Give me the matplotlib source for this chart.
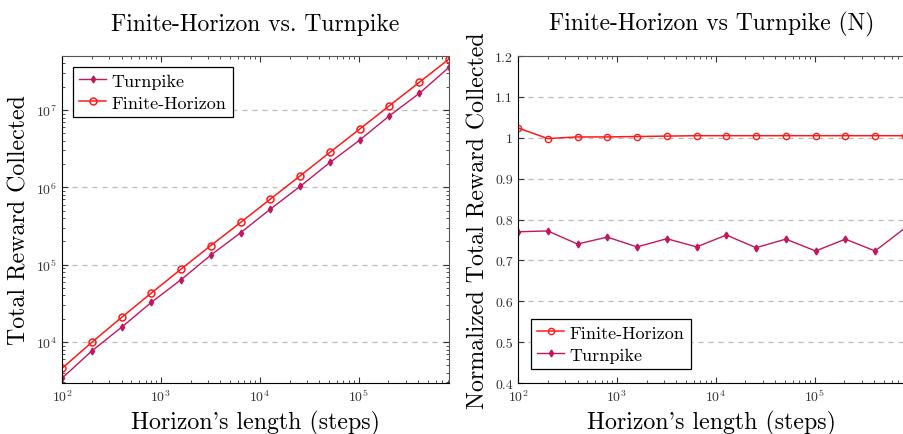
import numpy as np
import matplotlib
matplotlib.use("Agg")
import matplotlib.pyplot as plt
from matplotlib.ticker import FuncFormatter, LogLocator

plt.rcParams['font.family'] = ['cmr10', 'DejaVu Serif']
plt.rcParams['mathtext.fontset'] = 'cm'
plt.rcParams['axes.formatter.use_mathtext'] = True
plt.rcParams['axes.unicode_minus'] = False

# horizon lengths (steps)
horizon = [100, 200, 400, 800, 1600, 3200, 6400, 12800, 25600, 51200,
           102400, 204800, 409600, 819200]

# total reward collected
finite_total = [4570, 9910, 20800, 43000, 87700, 177000, 352000, 706000,
                1.41e6, 2.84e6, 5.68e6, 1.14e7, 2.28e7, 4.57e7]
turnpike_total = [3400, 7660, 15500, 32600, 64000, 133000, 259000, 524000,
                  1.03e6, 2.10e6, 4.09e6, 8.44e6, 1.64e7, 3.57e7]

# normalized total reward
finite_norm = [1.024, 0.998, 1.002, 1.002, 1.003, 1.004, 1.005, 1.005,
               1.005, 1.005, 1.005, 1.005, 1.005, 1.005]
turnpike_norm = [0.770, 0.772, 0.740, 0.757, 0.733, 0.753, 0.733, 0.762,
                 0.731, 0.752, 0.723, 0.752, 0.723, 0.779]

red = '#ff1a1a'
crim = '#c4165e'

fig = plt.figure(figsize=(9.04, 4.35), dpi=100)
ax1 = fig.add_axes([0.0686, 0.1172, 0.4281, 0.7518])
ax2 = fig.add_axes([0.573, 0.1172, 0.428, 0.7518])


def style(ax):
    ax.tick_params(which='both', direction='in', top=True, right=True,
                   labelsize=10, colors='#333333', labelcolor='#333333')
    ax.tick_params(which='major', length=4, width=0.8)
    ax.tick_params(which='minor', length=2, width=0.6)
    ax.spines['left'].set_color('black')
    ax.spines['bottom'].set_color('black')
    ax.spines['top'].set_color('#555555')
    ax.spines['right'].set_color('#555555')
    ax.yaxis.grid(True, which='major', linestyle=(0, (4, 4)), color='#bbbbbb', linewidth=0.9)
    ax.set_axisbelow(True)
    ax.set_xlabel("Horizon's length (steps)", fontsize=17.2)


# left: raw totals
ax1.loglog(horizon, turnpike_total, '-', color=crim, marker='d', markersize=3.5,
           linewidth=1.0, label='Turnpike')
ax1.loglog(horizon, finite_total, '-', color=red, marker='o', markersize=5,
           markerfacecolor='none', markeredgewidth=1.1, linewidth=1.1,
           label='Finite-Horizon')
ax1.set_xlim(100, 819200)
ax1.set_ylim(2950, 5.0e7)
ax1.xaxis.set_minor_locator(LogLocator(base=10, subs=np.arange(2, 10)))
ax1.yaxis.set_minor_locator(LogLocator(base=10, subs=np.arange(2, 10)))
style(ax1)
ax1.set_ylabel('Total Reward Collected', fontsize=17.2)
ax1.set_title('Finite-Horizon vs. Turnpike', fontsize=17, pad=19)
leg1 = ax1.legend(loc='upper left', fontsize=13, fancybox=False, framealpha=1,
                  edgecolor='black', handlelength=1.5, borderpad=0.35,
                  labelspacing=0.35, handletextpad=0.3,
                  bbox_to_anchor=(0.005, 0.995))
leg1.get_frame().set_linewidth(0.9)

# right: normalized totals
ax2.semilogx(horizon, finite_norm, '-', color=red, marker='o', markersize=4.5,
             markerfacecolor='none', markeredgewidth=1.0, linewidth=1.1,
             label='Finite-Horizon')
ax2.semilogx(horizon, turnpike_norm, '-', color=crim, marker='d', markersize=3.5,
             linewidth=1.0, label='Turnpike')
ax2.set_xlim(100, 819200)
ax2.set_ylim(0.4, 1.2)
ax2.set_yticks(np.arange(0.4, 1.21, 0.1))
ax2.yaxis.set_major_formatter(FuncFormatter(lambda v, p: '%g' % round(v, 1)))
ax2.xaxis.set_minor_locator(LogLocator(base=10, subs=np.arange(2, 10)))
style(ax2)
ax2.tick_params(axis='y', right=False)
ax2.spines['right'].set_visible(False)
ax2.set_ylabel('Normalized Total Reward Collected', fontsize=17.2)
ax2.set_title('Finite-Horizon vs Turnpike (N)', fontsize=17, pad=19)
leg2 = ax2.legend(loc='lower left', fontsize=13, fancybox=False, framealpha=1,
                  edgecolor='black', handlelength=1.5, borderpad=0.35,
                  labelspacing=0.35, handletextpad=0.3,
                  bbox_to_anchor=(0.01, 0.015))
leg2.get_frame().set_linewidth(0.9)

fig.savefig('out.png', dpi=100)
